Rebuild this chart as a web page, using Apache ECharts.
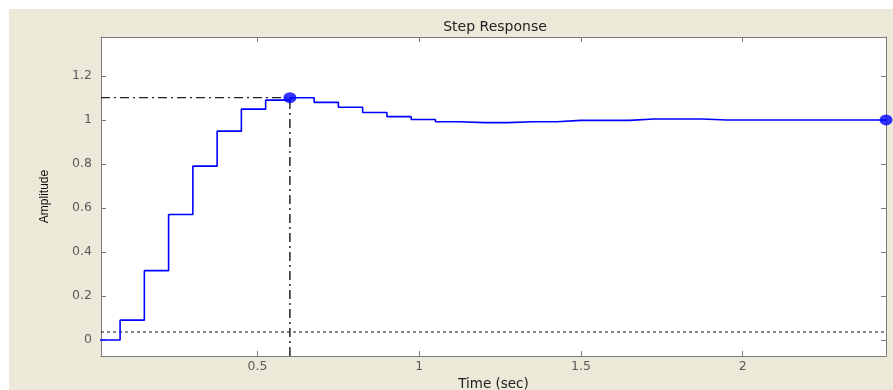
<!DOCTYPE html>
<html>
<head>
<meta charset="utf-8">
<script src="https://cdn.jsdelivr.net/npm/echarts@6/dist/echarts.min.js"></script>
<style>
html,body{margin:0;padding:0;background:#fff;}
#c{width:893px;height:390px;}
</style>
</head>
<body>
<div id="c"></div>
<script>
// ---- data ----
var times = [0, 0.075, 0.15, 0.225, 0.3, 0.375, 0.45, 0.525, 0.6, 0.675, 0.75, 0.825, 0.9, 0.975,
  1.05, 1.125, 1.2, 1.275, 1.35, 1.425, 1.5, 1.575, 1.65, 1.725, 1.8, 1.875, 1.95, 2.025,
  2.1, 2.175, 2.25, 2.325, 2.4];
var amplitude = [0, 0.09, 0.315, 0.57, 0.79, 0.949, 1.049, 1.09, 1.101, 1.08, 1.058, 1.034,
  1.015, 1.002, 0.992, 0.988, 0.988, 0.992, 0.992, 0.998, 0.998, 0.998, 1.004, 1.004, 1.004,
  1.0, 1.0, 1.0, 1.0, 1.0, 1.0, 1.0, 1.0];
var peakTime = 0.6;
var peakValue = 1.101;
var finalValue = 1.0;
var lowRefValue = 0.036;
var xMin = 0.016, xMax = 2.443;
var yMin = -0.073, yMax = 1.377;
var xTicks = [0.5, 1, 1.5, 2];
var yTicks = [0, 0.2, 0.4, 0.6, 0.8, 1, 1.2];
var titleText = 'Step Response';
var xName = 'Time (sec)';
var yName = 'Amplitude';

// ---- build ----
var stepData = times.map(function (t, i) { return [t, amplitude[i]]; });
stepData.push([xMax, amplitude[amplitude.length - 1]]);

var FONT = 'DejaVu Sans, Liberation Sans, Arial, sans-serif';
var FONT_NARROW = 'Liberation Sans, Arial, sans-serif';
var axisColor = '#7a7a7a';

function xAxisCfg(pos, showLabel) {
  return {
    type: 'value', position: pos, min: xMin, max: xMax,
    axisLine: { show: true, onZero: false, lineStyle: { color: axisColor, width: 1 } },
    axisTick: { show: true, inside: true, length: 5, customValues: xTicks, lineStyle: { color: axisColor } },
    axisLabel: { show: showLabel, customValues: xTicks, color: '#5a5a5a', fontFamily: FONT, fontSize: 12.5, margin: 4 },
    splitLine: { show: false },
    name: showLabel ? xName : '', nameLocation: 'middle', nameGap: 19,
    nameTextStyle: { color: '#222', fontFamily: FONT, fontSize: 13.5 }
  };
}
function yAxisCfg(pos, showLabel) {
  return {
    type: 'value', position: pos, min: yMin, max: yMax,
    axisLine: { show: true, onZero: false, lineStyle: { color: axisColor, width: 1 } },
    axisTick: { show: true, inside: true, length: 5, customValues: yTicks, lineStyle: { color: axisColor } },
    axisLabel: { show: showLabel, customValues: yTicks, color: '#5a5a5a', fontFamily: FONT, fontSize: 12.5, margin: 9 },
    splitLine: { show: false },
    name: showLabel ? yName : '', nameLocation: 'middle', nameGap: 50, nameRotate: 90,
    nameTextStyle: { color: '#111', fontFamily: FONT_NARROW, fontSize: 12 }
  };
}

var chart = echarts.init(document.getElementById('c'), null, { renderer: 'canvas' });
chart.setOption({
  backgroundColor: '#ffffff',
  animation: false,
  graphic: [{
    type: 'rect', z: -10, silent: true,
    shape: { x: 9, y: 9, width: 893 - 9, height: 390 - 9 },
    style: { fill: '#ECE9D8' }
  }],
  title: {
    text: titleText, left: 490, top: 15, textAlign: 'center',
    textStyle: { color: '#222', fontFamily: FONT, fontSize: 14, fontWeight: 'normal' }
  },
  grid: {
    left: 101, top: 37, right: 7, bottom: 34,
    outerBoundsMode: 'none', containLabel: false,
    show: true, backgroundColor: '#ffffff', borderWidth: 0
  },
  xAxis: [xAxisCfg('bottom', true), xAxisCfg('top', false)],
  yAxis: [yAxisCfg('left', true), yAxisCfg('right', false)],
  series: [
    {
      type: 'line', name: 'lowref', xAxisIndex: 0, yAxisIndex: 0,
      data: [[xMin, lowRefValue], [xMax, lowRefValue]],
      symbol: 'none', lineStyle: { color: '#111', width: 1, type: [3, 3] }, z: 2
    },
    {
      type: 'line', name: 'peakH', data: [[xMin, peakValue], [peakTime, peakValue]],
      symbol: 'none', lineStyle: { color: '#222', width: 1.3, type: [9, 4, 2, 4] }, z: 2
    },
    {
      type: 'line', name: 'peakV', data: [[peakTime, yMin], [peakTime, peakValue]],
      symbol: 'none', lineStyle: { color: '#222', width: 1.5, type: [9, 4, 2, 4] }, z: 2
    },
    {
      type: 'line', name: 'step', data: stepData, step: 'end',
      symbol: 'none', lineStyle: { color: '#0000ff', width: 1.6 }, z: 3
    },
    {
      type: 'scatter', name: 'marks', data: [[peakTime, peakValue], [xMax, finalValue]],
      symbol: 'circle', symbolSize: [13, 11], itemStyle: { color: '#0000ff' }, clip: false, z: 4
    }
  ]
});
</script>
</body>
</html>
